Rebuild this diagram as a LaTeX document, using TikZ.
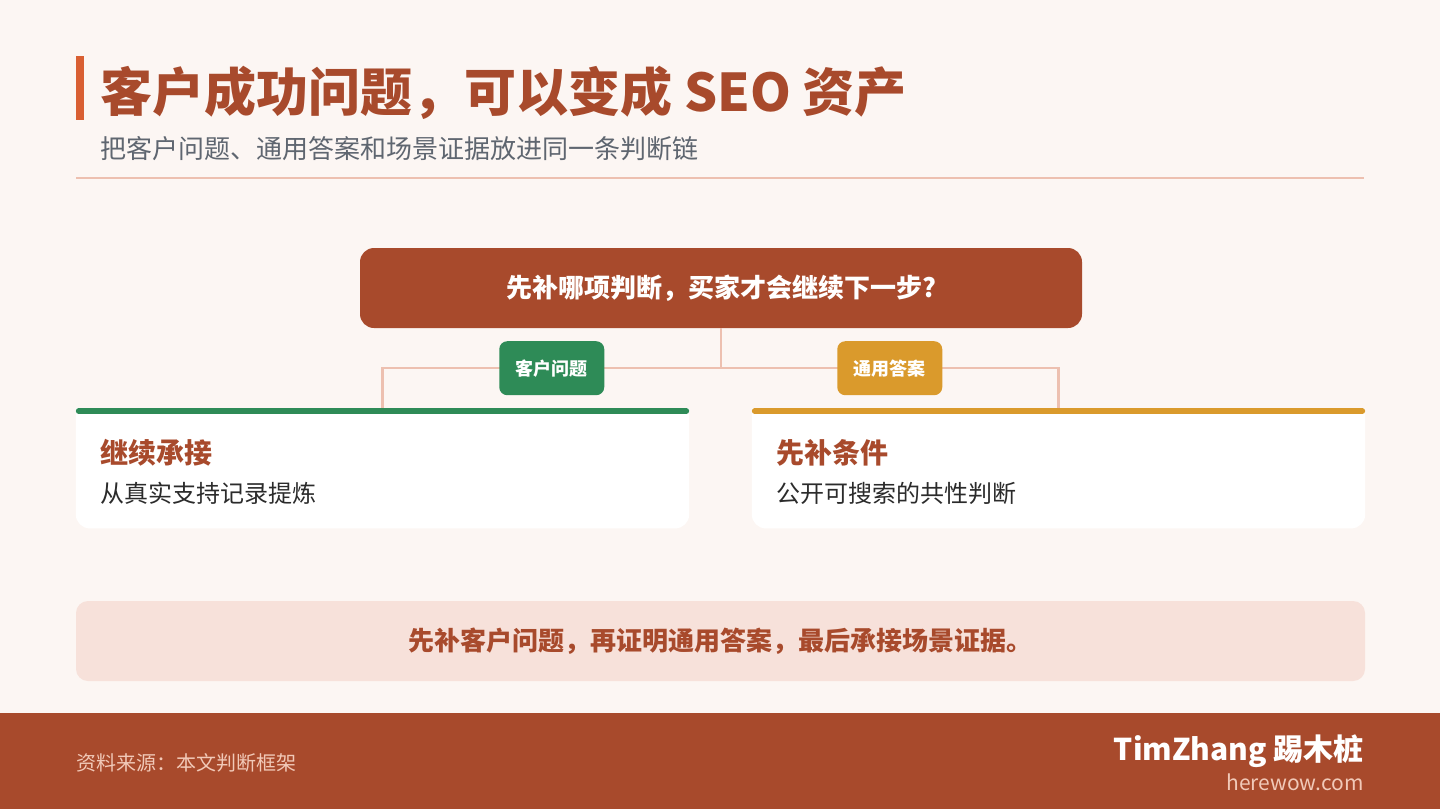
\documentclass[tikz,border=0pt]{standalone}
\usepackage{fontspec}
\setmainfont{Noto Sans CJK SC}
\usetikzlibrary{positioning}
\definecolor{pageBg}{HTML}{FCF6F3}
\definecolor{rustMain}{HTML}{A84A2C}
\definecolor{accentOrange}{HTML}{D95F32}
\definecolor{subGray}{HTML}{5F6670}
\definecolor{lineRose}{HTML}{EDC0B0}
\definecolor{tagGreen}{HTML}{2E8B57}
\definecolor{tagGold}{HTML}{DA9A2C}
\definecolor{bannerPink}{HTML}{F7E1DA}
\definecolor{bodyInk}{HTML}{2B2B2B}
\definecolor{footNote}{HTML}{F1C9B8}
\newcommand{\fsz}[1]{\fontsize{#1}{#1}\selectfont}

\begin{document}
\begin{tikzpicture}[x=1pt,y=-1pt,
  plainText/.style={inner sep=0pt,anchor=west},
  linkLine/.style={lineRose,line width=2.5pt},
  tagbox/.style={fill=#1,rounded corners=8pt,minimum width=105pt,minimum height=54pt,
    inner sep=0pt,text=white,font=\fsz{18}\bfseries},
  cardFrame/.style={minimum width=613pt,minimum height=120pt,inner sep=0pt,anchor=north}]
\useasboundingbox (0,0) rectangle (1440,809);
\fill[pageBg] (0,0) rectangle (1440,809);
% header
\fill[accentOrange] (76,56) rectangle (84,120);
\node[plainText,text=rustMain,font=\fsz{52}\bfseries] (title) at (100,93) {客户成功问题，可以变成 SEO 资产};
\node[plainText,text=subGray,font=\fsz{26}] (subtitle) at (100,149) {把客户问题、通用答案和场景证据放进同一条判断链};
\draw[lineRose,line width=1.5pt] (76,178) -- (1364,178);
% question
\node[fill=rustMain,rounded corners=14pt,minimum width=722pt,minimum height=80pt,
  text=white,font=\fsz{26}\bfseries] (question) at (721,288) {先补哪项判断，买家才会继续下一步?};
% cards
\node[cardFrame] (cardL) at (382.5,408) {};
\node[cardFrame] (cardR) at (1058.5,408) {};
\foreach \c/\col in {cardL/tagGreen,cardR/tagGold}{
  \fill[white] (\c.north west) [rounded corners=14pt] -- (\c.south west) -- (\c.south east)
    [sharp corners] -- (\c.north east) -- cycle;
  \draw[\col,line width=6pt,line cap=round] ([xshift=3pt,yshift=-3pt]\c.north west) -- ([xshift=-3pt,yshift=-3pt]\c.north east);
}
\node[plainText,text=rustMain,font=\fsz{28}\bfseries] (headL) at (100,453) {继续承接};
\node[plainText,text=bodyInk,font=\fsz{24}] (bodyL) at (100,493) {从真实支持记录提炼};
\node[plainText,text=rustMain,font=\fsz{28}\bfseries] (headR) at (776,453) {先补条件};
\node[plainText,text=bodyInk,font=\fsz{24}] (bodyR) at (776,493) {公开可搜索的共性判断};
% links
\draw[linkLine] (question.south) -- ++(0,40) coordinate (fork);
\draw[linkLine] (fork) -- node[tagbox=tagGreen] (tagCustomer) {客户问题} (fork -| cardL.north) -- (cardL.north);
\draw[linkLine] (fork) -- node[tagbox=tagGold] (tagAnswer) {通用答案} (fork -| cardR.north) -- (cardR.north);
% banner
\node[fill=bannerPink,rounded corners=12pt,minimum width=1289pt,minimum height=80pt,
  text=rustMain,font=\fsz{26}\bfseries] (banner) at (720.5,641) {先补客户问题，再证明通用答案，最后承接场景证据。};
% footer
\fill[rustMain] (0,713) rectangle (1440,809);
\node[plainText,text=footNote,font=\fsz{20}] (source) at (76,763) {资料来源：本文判断框架};
\node[inner sep=0pt,anchor=east,text=white,font=\fsz{30}\bfseries] (brand) at (1364,751) {TimZhang 踢木桩};
\node[inner sep=0pt,anchor=east,text=footNote,font=\fsz{21}] (site) at (1364,782) {herewow.com};
\end{tikzpicture}
\end{document}
